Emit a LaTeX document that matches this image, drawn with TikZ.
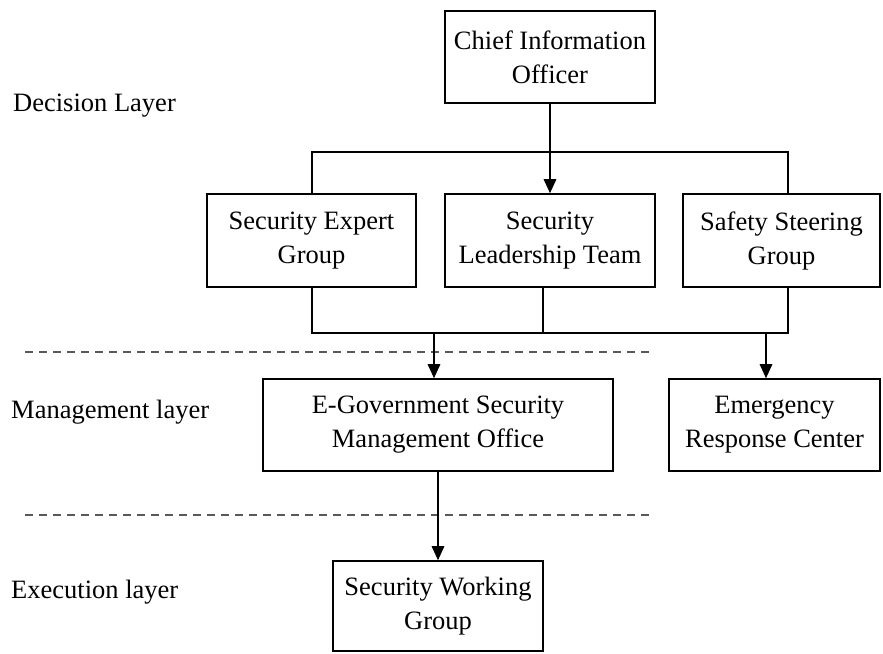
\documentclass[tikz,border=0pt]{standalone}
\usepackage{fontspec}
\setmainfont{Liberation Serif}
\usetikzlibrary{arrows.meta}
\begin{document}
\begin{tikzpicture}[x=1pt,y=-1pt,
  box/.style={draw, line width=1.6pt, rectangle, align=center, inner sep=0pt,
    minimum height=92pt, font=\fontsize{26.5}{34}\selectfont},
  lbl/.style={anchor=west, inner sep=0pt, font=\fontsize{26.5}{34}\selectfont},
  conn/.style={line width=1.5pt},
  arr/.style={line width=1.5pt, -{Triangle[length=14pt,width=12.5pt]}},
  sep/.style={draw=black!65, line width=1.2pt, dash pattern=on 8pt off 6pt}]
\useasboundingbox (0,0) rectangle (883,653);
% boxes
\node[box, minimum width=210pt] (cio) at (550,57) {Chief Information\\Officer};
\node[box, minimum width=209pt, minimum height=93pt] (seg) at (311.5,240.5) {Security Expert\\Group};
\node[box, minimum width=210pt, minimum height=93pt] (slt) at (550,240.5) {Security\\Leadership Team};
\node[box, minimum width=197pt, minimum height=93pt] (ssg) at (781.5,240.5) {Safety Steering\\Group};
\node[box, minimum width=350pt] (ego) at (438,425) {E-Government Security\\Management Office};
\node[box, minimum width=211pt] (erc) at (774.5,425) {Emergency\\Response Center};
\node[box, minimum width=210pt, minimum height=90pt] (swg) at (438,606) {Security Working\\Group};
% layer labels
\node[lbl] (dl) at (13,106) {Decision Layer};
\node[lbl] (ml) at (11,412) {Management layer};
\node[lbl] (el) at (11,592) {Execution layer};
% separators
\coordinate (s1a) at (25,352); \coordinate (s1b) at (653,352);
\coordinate (s2a) at (25,515); \coordinate (s2b) at (653,515);
\draw[sep] (s1a) -- (s1b);
\draw[sep] (s2a) -- (s2b);
% junction coordinates
\coordinate (tl) at (312,152);
\coordinate (tr) at (788,152);
\coordinate (bl) at (312,333);
\coordinate (br) at (788,333);
\coordinate (bm) at (543,333);
\coordinate (b1) at (434,333);
\coordinate (b2) at (766,333);
% connectors
\draw[arr] (cio.south) -- (slt.north);
\draw[conn] (seg.north -| tl) -- (tl) -- (tr) -- (ssg.north -| tr);
\draw[conn] (seg.south -| bl) -- (bl) -- (br) -- (ssg.south -| br);
\draw[conn] (slt.south -| bm) -- (bm);
\draw[arr] (b1) -- (ego.north -| b1);
\draw[arr] (b2) -- (erc.north -| b2);
\draw[arr] (ego.south) -- (swg.north);
\end{tikzpicture}
\end{document}
